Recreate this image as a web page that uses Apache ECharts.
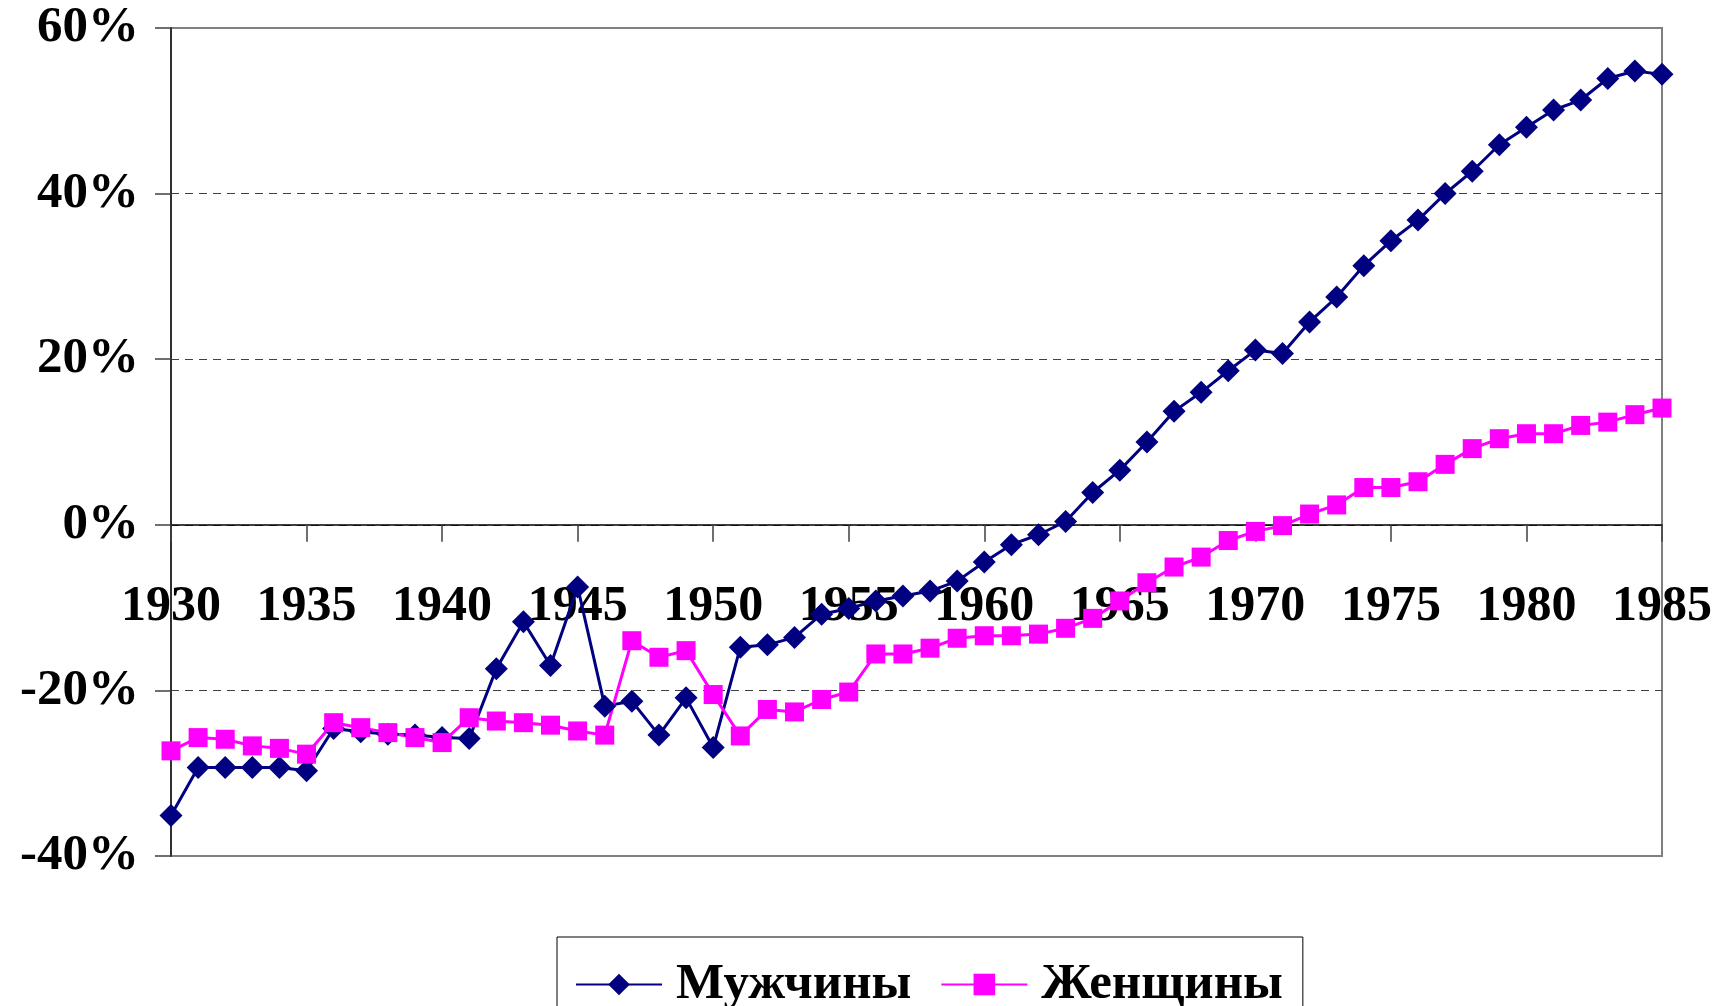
<!DOCTYPE html>
<html>
<head>
<meta charset="utf-8">
<style>
  html, body { margin: 0; padding: 0; background: #fff; }
  #container { width: 1728px; height: 1006px; }
</style>
<script src="https://cdn.jsdelivr.net/npm/echarts@6/dist/echarts.min.js"></script>
</head>
<body>
<div id="container"></div>
<script>
// годы по оси X
var years = [];
for (var y = 1930; y <= 1985; y++) years.push(String(y));

// Мужчины, %
var menValues = [
  -35.1, -29.3, -29.3, -29.3, -29.3, -29.7, -24.6, -25.0, -25.3, -25.4,
  -25.7, -25.8, -17.4, -11.7, -17.0, -7.5, -21.9, -21.3, -25.4, -20.9,
  -26.9, -14.8, -14.5, -13.6, -10.8, -10.1, -9.2, -8.6, -8.0, -6.8,
  -4.5, -2.4, -1.2, 0.4, 3.9, 6.6, 10.0, 13.7, 16.0, 18.6,
  21.1, 20.7, 24.5, 27.5, 31.3, 34.3, 36.8, 40.0, 42.7, 45.9,
  48.0, 50.1, 51.3, 53.9, 54.8, 54.4
];

// Женщины, %
var womenValues = [
  -27.3, -25.7, -25.9, -26.7, -27.0, -27.7, -23.9, -24.5, -25.1, -25.7,
  -26.3, -23.3, -23.7, -23.9, -24.2, -24.9, -25.4, -14.0, -16.0, -15.2,
  -20.5, -25.5, -22.3, -22.6, -21.1, -20.2, -15.6, -15.6, -14.9, -13.7,
  -13.4, -13.4, -13.2, -12.5, -11.3, -9.2, -7.0, -5.1, -3.9, -1.9,
  -0.8, -0.1, 1.3, 2.4, 4.5, 4.5, 5.2, 7.3, 9.2, 10.4,
  11.0, 11.0, 12.0, 12.4, 13.3, 14.1
];

var yMin = -40, yMax = 60, yStep = 20;

var font = '"Liberation Serif", "Times New Roman", serif';

// отступы сетки
var gridTop = 28, gridBottom = 150, chartH = 1006;
var gridH = chartH - gridTop - gridBottom;
// подписи лет стоят под нулевой линией, а не под низом сетки
var zeroOffset = -gridH * (0 - yMin) / (yMax - yMin);

var dom = document.getElementById('container');
var myChart = echarts.init(dom, null, { renderer: 'canvas' });

var option = {
  animation: false,
  backgroundColor: '#fff',
  grid: {
    left: 171, right: 66, top: gridTop, bottom: gridBottom,
    show: true,
    borderColor: '#808080',
    borderWidth: 2,
    backgroundColor: 'transparent'
  },
  legend: {
    left: 557,
    top: 937,
    padding: [22, 20, 60, 18],
    itemGap: 29,
    itemWidth: 86,
    itemHeight: 27,
    borderColor: '#000',
    borderWidth: 1,
    backgroundColor: '#fff',
    textStyle: {
      fontFamily: font, fontWeight: 'bold', fontSize: 51, color: '#000',
      padding: [0, 0, 0, 9]
    },
    data: ['Мужчины', 'Женщины']
  },
  xAxis: [
    {
      type: 'category',
      data: years,
      boundaryGap: false,
      axisLine: { onZero: true, lineStyle: { color: '#000', width: 1.5 } },
      axisTick: { show: true, interval: 4, length: 17, lineStyle: { color: '#404040', width: 1.5 } },
      axisLabel: { show: false },
      splitLine: { show: false }
    },
    {
      type: 'category',
      data: years,
      boundaryGap: false,
      position: 'bottom',
      offset: zeroOffset,
      axisLine: { show: false, onZero: false },
      axisTick: { show: false },
      axisLabel: {
        interval: 4, margin: 57,
        fontFamily: font, fontWeight: 'bold', fontSize: 50, color: '#000'
      },
      splitLine: { show: false }
    }
  ],
  yAxis: {
    type: 'value',
    min: yMin, max: yMax, interval: yStep,
    axisLine: { show: true, lineStyle: { color: '#303030', width: 2 } },
    axisTick: { show: true, length: 16, lineStyle: { color: '#404040', width: 1.5 } },
    axisLabel: {
      margin: 32,
      fontFamily: font, fontWeight: 'bold', fontSize: 51, color: '#000',
      formatter: function (v) { return v + '%'; }
    },
    splitLine: {
      show: true, showMinLine: false, showMaxLine: false,
      lineStyle: { color: '#404040', type: [8, 6], width: 1 }
    }
  },
  series: [
    {
      name: 'Мужчины',
      type: 'line',
      xAxisIndex: 0,
      data: menValues,
      symbol: 'diamond',
      symbolSize: 23,
      showAllSymbol: true,
      color: '#000080',
      lineStyle: { color: '#000080', width: 3 },
      itemStyle: { color: '#000080' }
    },
    {
      name: 'Женщины',
      type: 'line',
      xAxisIndex: 0,
      data: womenValues,
      symbol: 'rect',
      symbolSize: 19,
      showAllSymbol: true,
      color: '#ff00ff',
      lineStyle: { color: '#ff00ff', width: 3 },
      itemStyle: { color: '#ff00ff' }
    }
  ]
};

myChart.setOption(option);
window.addEventListener('resize', myChart.resize);
</script>
</body>
</html>
